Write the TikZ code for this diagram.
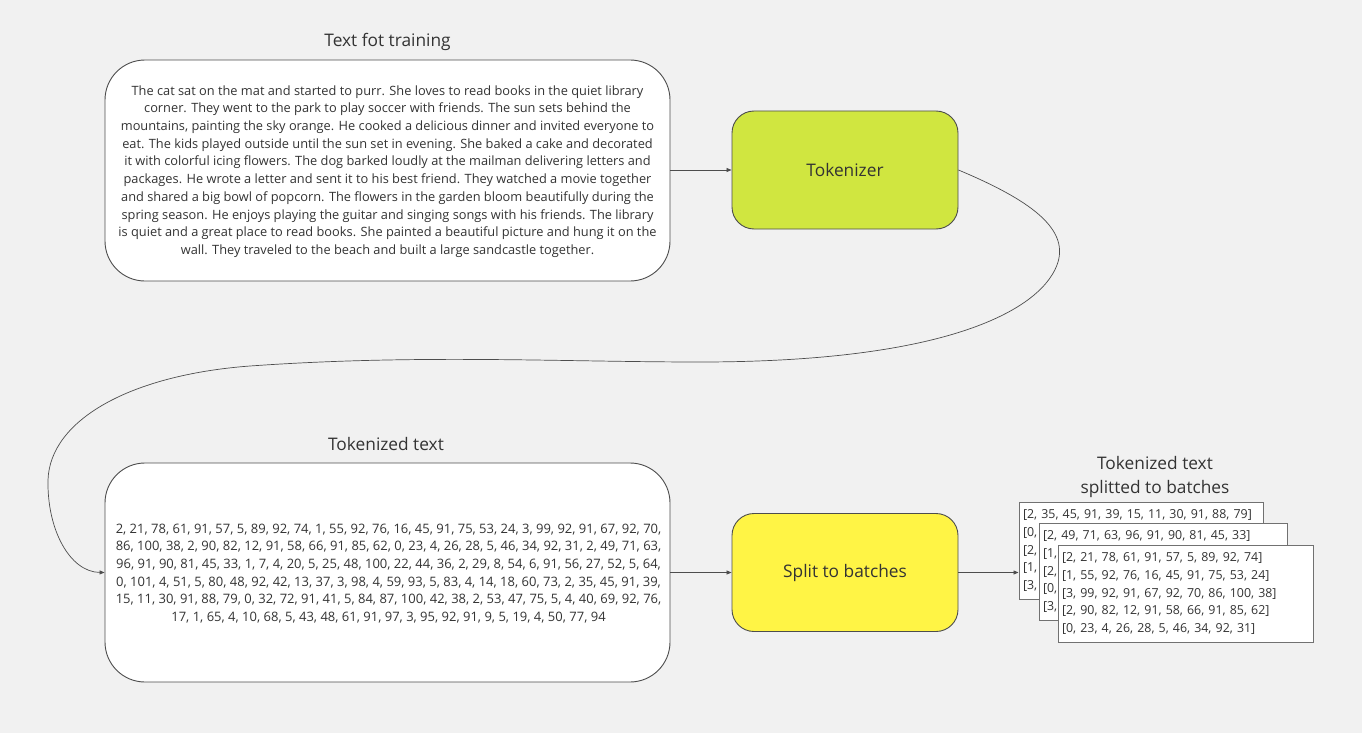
\documentclass[tikz,border=0pt]{standalone}
\usepackage{fontspec}
\setmainfont{Open Sans}
\usetikzlibrary{arrows.meta}
\definecolor{bgc}{HTML}{F1F1F1}
\definecolor{edge}{HTML}{4D4D4D}
\definecolor{txt}{HTML}{333333}
\definecolor{lime}{HTML}{D0E640}
\definecolor{yel}{HTML}{FFF445}
\tikzset{
  bigbox/.style={draw=edge, fill=white, rounded corners=40pt, line width=0.9pt, inner sep=0pt},
  procbox/.style={draw=edge, rounded corners=22pt, line width=0.9pt, minimum width=226pt, minimum height=118pt, text=txt, font=\fontsize{17.3}{20}\selectfont},
  batchbox/.style={draw=edge!80, fill=white, line width=1pt, minimum height=97pt, inner sep=0pt, align=left, text=txt, font=\fontsize{12.4}{17.7}\selectfont},
  title/.style={text=txt, font=\fontsize{17.3}{24}\selectfont, align=center},
  body/.style={text=txt, font=\fontsize{12.8}{17.7}\selectfont, align=center},
  nums/.style={text=txt, font=\fontsize{13}{17.6}\selectfont, align=center},
  conn/.style={draw=edge, line width=0.7pt, -{Triangle[length=5pt,width=4pt]}}
}
\begin{document}
\begin{tikzpicture}[x=1pt,y=-1pt]
\fill[bgc] (0,0) rectangle (1362,733);
\useasboundingbox (0,0) rectangle (1362,733);

\node[bigbox, minimum width=565pt, minimum height=221pt] (src) at (387.5,170.5) {};
\node[body] (srctext) at (387.5,171.5) {The cat sat on the mat and started to purr. She loves to read books in the quiet library\\corner. They went to the park to play soccer with friends. The sun sets behind the\\mountains, painting the sky orange. He cooked a delicious dinner and invited everyone to\\eat. The kids played outside until the sun set in evening. She baked a cake and decorated\\it with colorful icing flowers. The dog barked loudly at the mailman delivering letters and\\packages. He wrote a letter and sent it to his best friend. They watched a movie together\\and shared a big bowl of popcorn. The flowers in the garden bloom beautifully during the\\spring season. He enjoys playing the guitar and singing songs with his friends. The library\\is quiet and a great place to read books. She painted a beautiful picture and hung it on the\\wall. They traveled to the beach and built a large sandcastle together.};
\node[title] (srctitle) at (387.5,42) {Text fot training};

\node[procbox, fill=lime] (tok) at (845,170) {Tokenizer};

\node[bigbox, minimum width=565pt, minimum height=219pt] (tk) at (387.5,572.5) {};
\node[nums] (tktext) at (388.5,573.5) {2, 21, 78, 61, 91, 57, 5, 89, 92, 74, 1, 55, 92, 76, 16, 45, 91, 75, 53, 24, 3, 99, 92, 91, 67, 92, 70,\\86, 100, 38, 2, 90, 82, 12, 91, 58, 66, 91, 85, 62, 0, 23, 4, 26, 28, 5, 46, 34, 92, 31, 2, 49, 71, 63,\\96, 91, 90, 81, 45, 33, 1, 7, 4, 20, 5, 25, 48, 100, 22, 44, 36, 2, 29, 8, 54, 6, 91, 56, 27, 52, 5, 64,\\0, 101, 4, 51, 5, 80, 48, 92, 42, 13, 37, 3, 98, 4, 59, 93, 5, 83, 4, 14, 18, 60, 73, 2, 35, 45, 91, 39,\\15, 11, 30, 91, 88, 79, 0, 32, 72, 91, 41, 5, 84, 87, 100, 42, 38, 2, 53, 47, 75, 5, 4, 40, 69, 92, 76,\\17, 1, 65, 4, 10, 68, 5, 43, 48, 61, 91, 97, 3, 95, 92, 91, 9, 5, 19, 4, 50, 77, 94};
\node[title] (tktitle) at (386,444) {Tokenized text};

\node[procbox, fill=yel] (split) at (845,572.5) {Split to batches};

\node[batchbox, minimum width=244pt, text width=236pt] (b1) at (1141,550.5) {[2, 35, 45, 91, 39, 15, 11, 30, 91, 88, 79]\\{[0,}\\{[2,}\\{[1,}\\{[3,}};
\node[batchbox, minimum width=248pt, text width=240pt] (b2) at (1163,571.5) {[2, 49, 71, 63, 96, 91, 90, 81, 45, 33]\\{[1,}\\{[2,}\\{[0,}\\{[3,}};
\node[batchbox, minimum width=255pt, text width=247pt] (b3) at (1185.5,593.5) {[2, 21, 78, 61, 91, 57, 5, 89, 92, 74]\\{[1, 55, 92, 76, 16, 45, 91, 75, 53, 24]}\\{[3, 99, 92, 91, 67, 92, 70, 86, 100, 38]}\\{[2, 90, 82, 12, 91, 58, 66, 91, 85, 62]}\\{[0, 23, 4, 26, 28, 5, 46, 34, 92, 31]}};
\node[title] (btitle) at (1155,477) {Tokenized text\\splitted to batches};

\draw[conn] (src.east |- tok.west) -- (tok.west);
\draw[conn] (tk.east |- split.west) -- (split.west);
\draw[conn] (split.east) -- (split.east -| b1.west);
\draw[conn] (tok.east) .. controls (1030,200) and (1068,228) .. (1058,262)
  .. controls (1045,305) and (960,362) .. (700,362)
  .. controls (560,362) and (420,354) .. (250,366)
  .. controls (130,375) and (50,420) .. (48,480)
  .. controls (47,530) and (70,572) .. (tk.west);
\end{tikzpicture}
\end{document}
